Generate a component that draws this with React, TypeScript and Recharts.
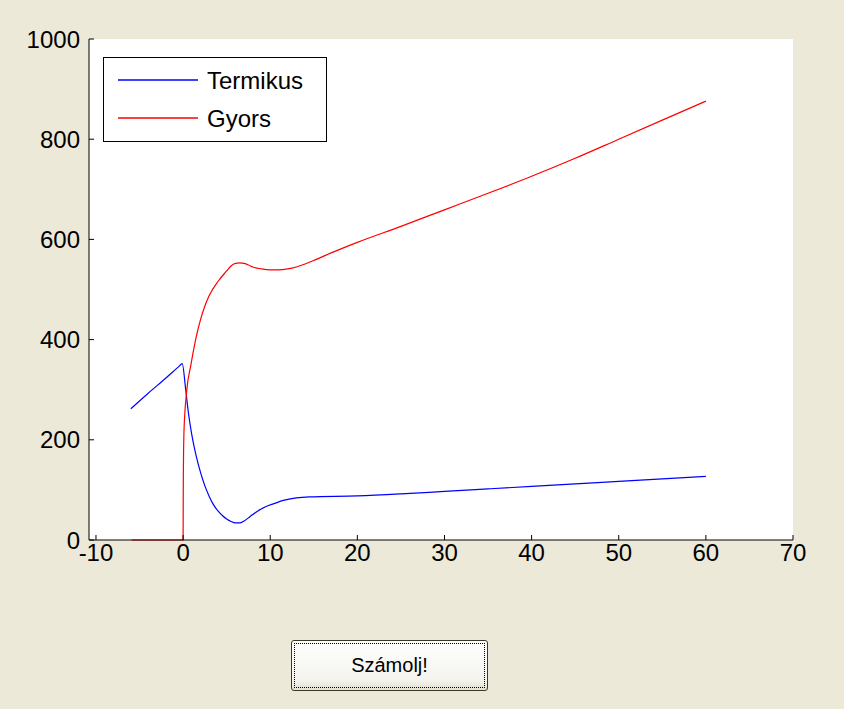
import React from 'react';
import { LineChart, Line, XAxis, YAxis, CartesianGrid } from 'recharts';

const xTicks = [-10, 0, 10, 20, 30, 40, 50, 60, 70];
const yTicks = [0, 200, 400, 600, 800, 1000];

const termikusX = [-6.0, -4, -2, -0.5, -0.1, 0.3, 0.6, 1.0, 1.5, 2.0, 2.5, 3.0, 3.5, 4.0, 4.5, 5.0, 5.5, 6.0, 6.5, 7.0, 7.7, 8.5, 9.4, 10.5, 11.5, 13, 14.5, 20, 25, 30, 35, 40, 45, 50, 55, 60];
const termikusY = [262, 293, 323, 346, 352, 300, 255, 210, 168, 135, 108, 87, 70, 58, 49, 42, 37, 34, 34, 38, 47, 57, 66, 73, 79, 84, 86, 88, 92, 97, 102, 107, 112, 117, 122, 127];

const gyorsX = [-5.9, 0, 0.02, 0.1, 0.4, 0.9, 1.5, 2.0, 2.5, 3.0, 4.0, 5.0, 5.5, 6.0, 6.5, 7.0, 7.5, 8.0, 9.0, 10.0, 11.0, 12.0, 13.0, 14.0, 15.0, 17, 20, 25, 30, 35, 40, 45, 50, 55, 60];
const gyorsY = [0, 0, 106, 216, 295, 350, 405, 440, 467, 488, 516, 537, 547, 552, 553, 552, 549, 545, 541, 539, 539, 541, 545, 551, 558, 573, 594, 626, 659, 692, 726, 762, 800, 838, 876];

const legendLabels = ['Termikus', 'Gyors'];
const seriesColors = ['#0000ff', '#ff0000'];
const buttonLabel = 'Számolj!';

const termikusData = termikusX.map((x, i) => ({ x, y: termikusY[i] }));
const gyorsData = gyorsX.map((x, i) => ({ x, y: gyorsY[i] }));

const FONT = "Arial, 'Liberation Sans', sans-serif";

export default function App() {
  return (
    <div
      style={{
        position: 'absolute',
        left: 0,
        top: 0,
        width: 844,
        height: 709,
        background: '#ECE9D8',
        overflow: 'hidden',
      }}
    >
      <div style={{ position: 'absolute', left: 0, top: 0 }}>
        <LineChart width={844} height={709} margin={{ top: 39, right: 51, bottom: 139, left: 39 }}>
          <CartesianGrid xAxisId="b" yAxisId="l" fill="#ffffff" horizontal={false} vertical={false} />
          <XAxis
            xAxisId="b"
            type="number"
            dataKey="x"
            domain={[-10.8, 70]}
            ticks={xTicks}
            allowDataOverflow
            height={30}
            tickSize={-5}
            tickMargin={9}
            stroke="#000"
            tick={{ fill: '#000', fontSize: 24, fontFamily: FONT }}
            interval={0}
          />
          <XAxis
            xAxisId="t"
            orientation="top"
            type="number"
            dataKey="x"
            domain={[-10.8, 70]}
            ticks={xTicks}
            allowDataOverflow
            height={0}
            tickSize={-5}
            tick={false}
            stroke="#000"
            interval={0}
          />
          <YAxis
            yAxisId="l"
            type="number"
            domain={[0, 1000]}
            ticks={yTicks}
            width={50}
            tickSize={-5}
            tickMargin={14}
            stroke="#000"
            tick={{ fill: '#000', fontSize: 24, fontFamily: FONT }}
            interval={0}
          />
          <YAxis
            yAxisId="r"
            orientation="right"
            type="number"
            domain={[0, 1000]}
            ticks={yTicks}
            width={0}
            tickSize={-5}
            tick={false}
            stroke="#000"
            interval={0}
          />
          <Line
            xAxisId="b"
            yAxisId="l"
            data={termikusData}
            dataKey="y"
            type="monotone"
            stroke={seriesColors[0]}
            strokeWidth={1.2}
            dot={false}
            isAnimationActive={false}
          />
          <Line
            xAxisId="b"
            yAxisId="l"
            data={gyorsData}
            dataKey="y"
            type="monotone"
            stroke={seriesColors[1]}
            strokeWidth={1.2}
            dot={false}
            isAnimationActive={false}
          />
        </LineChart>
      </div>

      <div
        style={{
          position: 'absolute',
          left: 103,
          top: 57,
          width: 224,
          height: 85,
          boxSizing: 'border-box',
          border: '1px solid #000',
          background: '#fff',
        }}
      >
        <svg width={222} height={83} style={{ display: 'block' }}>
          {legendLabels.map((lab, i) => {
            const y = 22 + i * 38;
            return (
              <g key={lab}>
                <line x1={14} x2={94} y1={y} y2={y} stroke={seriesColors[i]} strokeWidth={1.5} />
                <text x={103} y={y} dominantBaseline="central" fontSize={24} fontFamily={FONT} fill="#000">
                  {lab}
                </text>
              </g>
            );
          })}
        </svg>
      </div>

      <div
        style={{
          position: 'absolute',
          left: 291,
          top: 640,
          width: 197,
          height: 51,
          boxSizing: 'border-box',
          border: '1px solid #3a3a2a',
          borderRadius: 3,
          background: 'linear-gradient(#ffffff, #f4f3ee 80%, #e3e0d0)',
        }}
      >
        <div
          style={{
            position: 'absolute',
            left: 2,
            top: 2,
            right: 2,
            bottom: 2,
            border: '1px dotted #000',
            display: 'flex',
            alignItems: 'center',
            justifyContent: 'center',
            fontFamily: FONT,
            fontSize: 20,
            color: '#000',
          }}
        >
          {buttonLabel}
        </div>
      </div>
    </div>
  );
}
